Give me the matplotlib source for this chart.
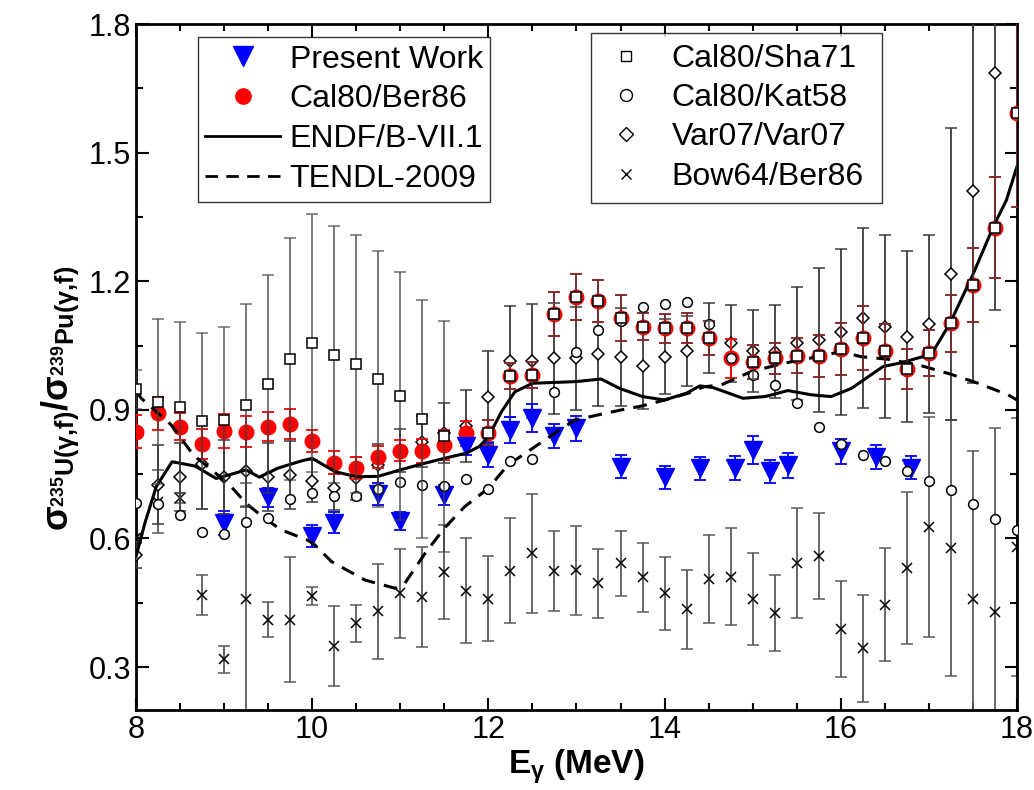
import matplotlib
matplotlib.use("Agg")
import matplotlib.pyplot as plt
from matplotlib.lines import Line2D
from matplotlib.ticker import MultipleLocator, FormatStrFormatter

plt.rcParams['font.family'] = ['Liberation Sans', 'DejaVu Sans']
plt.rcParams['mathtext.fontset'] = 'custom'
plt.rcParams['mathtext.rm'] = 'Liberation Sans:bold'
plt.rcParams['mathtext.it'] = 'Liberation Sans:bold'
plt.rcParams['mathtext.bf'] = 'Liberation Sans:bold'

# Present work (blue triangles)
E_pw = [9.0, 9.5, 10.0, 10.25, 10.75, 11.0, 11.5, 11.75, 12.0, 12.25, 12.5, 12.75,
        13.0, 13.5, 14.0, 14.4, 14.8, 15.0, 15.2, 15.4, 16.0, 16.4, 16.8]
pw = [0.637, 0.696, 0.606, 0.637, 0.703, 0.641, 0.702, 0.815, 0.795, 0.853, 0.881, 0.839,
      0.857, 0.767, 0.743, 0.764, 0.765, 0.806, 0.757, 0.771, 0.803, 0.790, 0.765]
pw_err = [0.028, 0.022, 0.025, 0.025, 0.026, 0.021, 0.023, 0.020, 0.028, 0.030, 0.032, 0.029,
          0.029, 0.027, 0.027, 0.027, 0.028, 0.032, 0.027, 0.029, 0.029, 0.028, 0.027]

# common energy grid of the other data sets (8 - 18 MeV, 0.25 MeV)
E_grid = [8.0, 8.25, 8.5, 8.75, 9.0, 9.25, 9.5, 9.75, 10.0, 10.25, 10.5, 10.75, 11.0, 11.25,
          11.5, 11.75, 12.0, 12.25, 12.5, 12.75, 13.0, 13.25, 13.5, 13.75, 14.0, 14.25, 14.5,
          14.75, 15.0, 15.25, 15.5, 15.75, 16.0, 16.25, 16.5, 16.75, 17.0, 17.25, 17.5, 17.75, 18.0]

# Cal80/Ber86 (red circles)
ber86 = [0.849, 0.892, 0.861, 0.820, 0.851, 0.849, 0.861, 0.867, 0.827, 0.777, 0.764, 0.790,
         0.805, 0.805, 0.818, 0.845, 0.847, 0.979, 0.981, 1.123, 1.164, 1.155, 1.115, 1.094,
         1.090, 1.090, 1.067, 1.020, 1.011, 1.020, 1.026, 1.026, 1.042, 1.068, 1.037, 0.995,
         1.033, 1.102, 1.191, 1.325, 1.593]
ber86_err = [0.038, 0.038, 0.031, 0.035, 0.040, 0.036, 0.033, 0.036, 0.026, 0.027, 0.026, 0.026,
             0.025, 0.028, 0.034, 0.030, 0.029, 0.030, 0.030, 0.051, 0.054, 0.049, 0.054, 0.032,
             0.033, 0.035, 0.040, 0.045, 0.040, 0.036, 0.041, 0.049, 0.061, 0.074, 0.064, 0.046,
             0.053, 0.067, 0.086, 0.117, 0.220]

# Cal80/Sha71 (open squares)
E_sha = [8.0, 8.25, 8.5, 8.75, 9.0, 9.25, 9.5, 9.75, 10.0, 10.25, 10.5, 10.75, 11.0, 11.25, 11.5,
         12.0, 12.25, 12.5, 12.75, 13.0, 13.25, 13.5, 13.75, 14.0, 14.25, 14.5,
         15.0, 15.25, 15.5, 15.75, 16.0, 16.25, 16.5, 16.75, 17.0, 17.25, 17.5, 17.75, 18.0]
sha71 = [0.948, 0.919, 0.906, 0.874, 0.876, 0.911, 0.960, 1.019, 1.057, 1.029, 1.008, 0.972,
         0.932, 0.878, 0.838,
         0.847, 0.979, 0.981, 1.123, 1.164, 1.155, 1.115, 1.094, 1.090, 1.090, 1.067,
         1.011, 1.020, 1.026, 1.026, 1.042, 1.068, 1.037, 0.995, 1.033, 1.102, 1.191, 1.325, 1.593]
sha71_err = [0.046, 0.193, 0.200, 0.206, 0.218, 0.235, 0.254, 0.282, 0.301, 0.300, 0.301, 0.298,
             0.289, 0.278, 0.270,
             0.029, 0.030, 0.030, 0.051, 0.054, 0.049, 0.054, 0.032, 0.033, 0.035, 0.040,
             0.040, 0.036, 0.041, 0.049, 0.061, 0.074, 0.064, 0.046, 0.053, 0.067, 0.086, 0.117, 0.220]

# Cal80/Kat58 (open circles, no errors)
kat58 = [0.682, 0.680, 0.655, 0.616, 0.610, 0.638, 0.647, 0.691, 0.707, 0.699, 0.699, 0.715,
         0.732, 0.725, 0.722, 0.739, 0.715, 0.781, 0.785, 0.942, 1.036, 1.086, 1.107, 1.139,
         1.148, 1.151, 1.101, 1.020, 0.981, 0.958, 0.917, 0.859, 0.820, 0.795, 0.781, 0.757,
         0.734, 0.712, 0.681, 0.645, 0.620]

# Var07/Var07 (open diamonds)
E_var = E_grid[:-1]
var07 = [0.561, 0.725, 0.743, 0.774, 0.743, 0.758, 0.743, 0.748, 0.734, 0.717, 0.740, 0.771,
         0.806, 0.826, 0.847, 0.862, 0.931, 1.013, 1.014, 1.020, 1.020, 1.030, 1.024, 1.002,
         1.024, 1.038, 1.068, 1.055, 1.038, 1.036, 1.055, 1.063, 1.081, 1.115, 1.094, 1.071,
         1.100, 1.217, 1.410, 1.686]
var07_err = [0.030, 0.092, 0.080, 0.105, 0.087, 0.085, 0.080, 0.080, 0.050, 0.050, 0.050, 0.050,
             0.050, 0.060, 0.070, 0.084, 0.106, 0.129, 0.132, 0.130, 0.120, 0.120, 0.114, 0.100,
             0.087, 0.082, 0.081, 0.089, 0.096, 0.108, 0.131, 0.169, 0.194, 0.210, 0.214, 0.200,
             0.208, 0.340, 0.447, 0.553]

# Bow64/Ber86 (crosses)
bow64 = [0.600, 0.686, 0.694, 0.468, 0.318, 0.460, 0.411, 0.411, 0.466, 0.349, 0.402, 0.430,
         0.472, 0.464, 0.522, 0.478, 0.460, 0.525, 0.565, 0.524, 0.526, 0.495, 0.542, 0.509,
         0.472, 0.435, 0.505, 0.511, 0.458, 0.426, 0.542, 0.559, 0.389, 0.344, 0.446, 0.531,
         0.627, 0.578, 0.460, 0.428, 0.580]
bow64_err = [0.010, 0.074, 0.012, 0.047, 0.032, 0.270, 0.040, 0.145, 0.022, 0.094, 0.044, 0.110,
             0.104, 0.117, 0.109, 0.122, 0.099, 0.123, 0.139, 0.094, 0.104, 0.080, 0.076, 0.081,
             0.085, 0.092, 0.102, 0.113, 0.107, 0.088, 0.128, 0.100, 0.111, 0.125, 0.131, 0.177,
             0.257, 0.298, 0.345, 0.430, 0.300]

# ENDF/B-VII.1 evaluation
E_endf = [8.0, 8.1, 8.23, 8.41, 8.67, 8.91, 9.05, 9.25, 9.4, 9.61, 9.88, 10.0, 10.26, 10.5,
          10.75, 11.0, 11.25, 11.5, 11.75, 11.9, 12.0, 12.15, 12.3, 12.5, 13.0, 13.28, 13.49,
          13.75, 14.0, 14.25, 14.4, 14.55, 14.89, 15.14, 15.4, 15.67, 15.89, 16.12, 16.48,
          16.69, 17.03, 17.24, 17.49, 17.74, 17.88, 18.0]
endf = [0.557, 0.635, 0.721, 0.779, 0.769, 0.740, 0.748, 0.760, 0.743, 0.764, 0.781, 0.787,
        0.756, 0.744, 0.745, 0.760, 0.774, 0.787, 0.799, 0.815, 0.837, 0.896, 0.942, 0.962,
        0.966, 0.972, 0.950, 0.931, 0.923, 0.939, 0.956, 0.952, 0.927, 0.931, 0.945, 0.935,
        0.931, 0.950, 1.001, 1.010, 1.030, 1.102, 1.211, 1.331, 1.389, 1.467]

# TENDL-2009 evaluation
E_tendl = [8.0, 8.06, 8.4, 8.65, 8.86, 9.08, 9.25, 9.46, 9.65, 9.95, 10.03, 10.22, 10.6, 10.94,
           11.05, 11.28, 11.5, 11.73, 12.0, 12.22, 12.5, 12.75, 12.98, 13.24, 13.51, 13.74,
           14.0, 14.27, 14.45, 14.64, 14.98, 15.36, 15.74, 16.0, 16.23, 16.54, 16.88, 17.22,
           17.56, 17.9, 18.0]
tendl = [0.945, 0.927, 0.865, 0.795, 0.760, 0.721, 0.682, 0.647, 0.620, 0.596, 0.585, 0.546,
         0.503, 0.484, 0.495, 0.565, 0.624, 0.674, 0.717, 0.771, 0.810, 0.845, 0.876, 0.888,
         0.900, 0.909, 0.923, 0.939, 0.954, 0.958, 0.989, 1.009, 1.024, 1.036, 1.024, 1.018,
         1.005, 0.985, 0.962, 0.935, 0.923]

fig = plt.figure(figsize=(10.34, 7.90), dpi=100)
ax = fig.add_axes([0.1315, 0.1013, 0.852, 0.8683])

ebar_gray = '#5a5a5a'
cap = 4.5

ax.errorbar(E_grid, bow64, yerr=bow64_err, fmt='x', ms=7.5, mew=1.1, color='black',
            ecolor=ebar_gray, elinewidth=1.3, capsize=cap, capthick=1.3, zorder=2)
ax.errorbar(E_var, var07, yerr=var07_err, fmt='D', ms=6.5, mew=1.1, mfc='white', mec='black',
            ecolor='#3c3c3c', elinewidth=1.3, capsize=cap, capthick=1.3, zorder=3)
ax.errorbar(E_grid, ber86, yerr=ber86_err, fmt='o', ms=10.5, color='red',
            ecolor='red', elinewidth=1.3, capsize=cap, capthick=1.3, zorder=4)
ax.errorbar(E_pw, pw, yerr=pw_err, fmt='v', ms=12.5, color='blue',
            ecolor='blue', elinewidth=1.3, capsize=cap, capthick=1.3, zorder=5)
ax.plot(E_endf, endf, '-', color='black', lw=2.2, zorder=6)
ax.plot(E_tendl, tendl, color='black', lw=2.2, ls=(0, (4.5, 3)), zorder=6)
ax.plot(E_grid, kat58, 'o', ms=7, mew=1.1, mfc='white', mec='black', zorder=7)
ax.errorbar(E_sha, sha71, yerr=sha71_err, fmt='s', ms=6.5, mew=1.1, mfc='white', mec='black',
            ecolor=(0.25, 0.25, 0.25, 0.75), elinewidth=1.3, capsize=cap, capthick=1.3, zorder=8)

ax.set_xlim(8, 18)
ax.set_ylim(0.2, 1.8)
ax.xaxis.set_major_locator(MultipleLocator(2))
ax.xaxis.set_minor_locator(MultipleLocator(0.5))
ax.yaxis.set_major_locator(MultipleLocator(0.3))
ax.yaxis.set_minor_locator(MultipleLocator(0.15))
ax.xaxis.set_major_formatter(FormatStrFormatter('%d'))
ax.yaxis.set_major_formatter(FormatStrFormatter('%.1f'))
ax.tick_params(which='both', direction='in', top=True, right=True, labelsize=22, width=1.5)
ax.tick_params(which='major', length=9)
ax.tick_params(which='minor', length=5)
for sp in ax.spines.values():
    sp.set_linewidth(2)

ax.set_xlabel(r'$E_{\gamma}$ (MeV)', fontsize=24, fontweight='bold', labelpad=2)
ax.set_ylabel(r'$\sigma_{^{235}U(\gamma{,}f)}/\sigma_{^{239}Pu(\gamma{,}f)}$', fontsize=26)
ax.yaxis.set_label_coords(-0.062, 0.455)

# legends, built from proxy handles; boxes stretched to the reference widths
left_handles = [
    Line2D([], [], marker='v', ls='none', color='blue', ms=14),
    Line2D([], [], marker='o', ls='none', color='red', ms=11),
    Line2D([], [], color='black', lw=2),
    Line2D([], [], color='black', lw=2, ls=(0, (4.5, 3))),
]
left_labels = ['Present Work', 'Cal80/Ber86', 'ENDF/B-VII.1', 'TENDL-2009']
leg1 = ax.legend(left_handles, left_labels, loc='upper left',
                 bbox_to_anchor=(0.0704, 0.5, 0.3314, 0.481), mode='expand',
                 fontsize=23, frameon=True, fancybox=False, edgecolor='black',
                 borderaxespad=0, borderpad=0.235, handlelength=2.33, handletextpad=0.3,
                 labelspacing=0.31)
leg1.get_frame().set_linewidth(1.0)
ax.add_artist(leg1)

right_handles = [
    Line2D([], [], marker='s', ls='none', mfc='white', mec='black', ms=7.7),
    Line2D([], [], marker='o', ls='none', mfc='white', mec='black', ms=8.6),
    Line2D([], [], marker='D', ls='none', mfc='white', mec='black', ms=7),
    Line2D([], [], marker='x', ls='none', color='black', ms=7.7),
]
right_labels = ['Cal80/Sha71', 'Cal80/Kat58', 'Var07/Var07', 'Bow64/Ber86']
leg2 = ax.legend(right_handles, right_labels, loc='upper left',
                 bbox_to_anchor=(0.5164, 0.5, 0.3303, 0.487), mode='expand',
                 fontsize=23, frameon=True, fancybox=False, edgecolor='black',
                 borderaxespad=0, borderpad=0.344, handlelength=1.5, handletextpad=0.69,
                 labelspacing=0.29)
leg2.get_frame().set_linewidth(1.0)

fig.savefig('out.png', dpi=100)
